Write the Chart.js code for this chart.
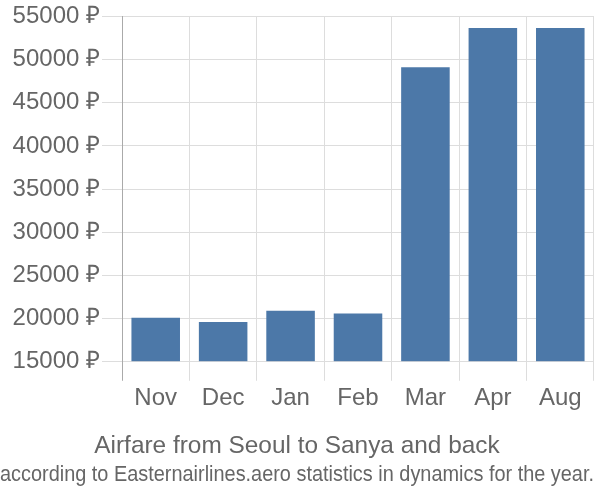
<!DOCTYPE html>
<html>
<head>
<meta charset="utf-8">
<script src="https://cdn.jsdelivr.net/npm/chart.js@4"></script>
<style>
  html, body { margin: 0; padding: 0; background: #fff; }
  #wrap { width: 600px; height: 500px; }
</style>
</head>
<body>
<div id="wrap"><canvas id="fareChart" width="600" height="500"></canvas></div>
<script>
const months = ['Nov', 'Dec', 'Jan', 'Feb', 'Mar', 'Apr', 'Aug'];
const fares = [20100, 19620, 20920, 20580, 49100, 53650, 53650];
const yTicks = [15000, 20000, 25000, 30000, 35000, 40000, 45000, 50000, 55000];

const textGray = '#666666';
const gridGray = '#dddddd';
const axisGray = '#aaaaaa';
const font = 'Liberation Sans, Arial, sans-serif';

const ctx = document.getElementById('fareChart').getContext('2d');
const fareChart = new Chart(ctx, {
    type: 'bar',
    data: {
        labels: months,
        datasets: [{
            data: fares,
            base: yTicks[0],
            backgroundColor: '#4c78a8',
            borderWidth: 0,
            categoryPercentage: 1,
            barPercentage: 0.72
        }]
    },
    options: {
        responsive: false,
        animation: false,
        layout: { padding: { top: 15, right: 6, left: 0, bottom: 0 } },
        plugins: {
            legend: { display: false },
            tooltip: { enabled: false },
            title: {
                display: true,
                position: 'bottom',
                weight: 1000,
                text: 'Airfare from Seoul to Sanya and back',
                color: textGray,
                font: { family: font, size: 24.4, weight: 'normal', lineHeight: 1.2 },
                padding: { top: 2, bottom: 0 }
            },
            subtitle: {
                display: true,
                position: 'bottom',
                weight: 2500,
                text: 'according to Easternairlines.aero statistics in dynamics for the year.',
                color: textGray,
                font: { family: 'Liberation Sans Narrow, ' + font, size: 22.2, lineHeight: 1.2 },
                padding: { top: 0, bottom: 12 }
            }
        },
        scales: {
            x: {
                grid: {
                    color: (c) => c.index === 0 ? axisGray : gridGray,
                    tickLength: 19
                },
                border: { display: false },
                ticks: {
                    color: textGray,
                    font: { family: font, size: 24 },
                    padding: 3,
                    maxRotation: 0
                },
                afterFit: (scale) => { scale.height = 68.3; }
            },
            y: {
                min: yTicks[0],
                max: yTicks[yTicks.length - 1],
                afterBuildTicks: (scale) => {
                    scale.ticks = yTicks.map(v => ({ value: v }));
                },
                grid: { color: gridGray, tickLength: 20 },
                border: { color: axisGray },
                ticks: {
                    color: textGray,
                    font: { family: font, size: 24 },
                    padding: 2,
                    callback: (v) => v + ' ₽'
                },
                afterFit: (scale) => { scale.width = 122; }
            }
        }
    }
});
</script>
</body>
</html>
